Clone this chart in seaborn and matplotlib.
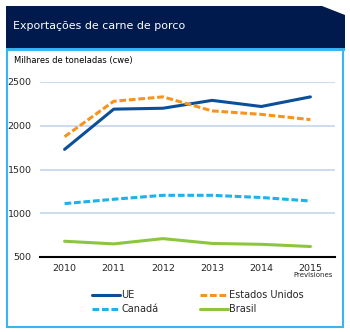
import matplotlib
matplotlib.use("Agg")
import matplotlib.pyplot as plt
from matplotlib.patches import Polygon, Rectangle
from matplotlib.lines import Line2D
import seaborn as sns
import pandas as pd

years = [2010, 2011, 2012, 2013, 2014, 2015]
ue = [1730, 2190, 2200, 2290, 2220, 2330]
eua = [1875, 2280, 2330, 2170, 2130, 2070]
canada = [1110, 1160, 1205, 1205, 1180, 1140]
brasil = [680, 650, 710, 655, 645, 620]
series_names = ["UE", "Estados Unidos", "Canadá", "Brasil"]
yticks = [500, 1000, 1500, 2000, 2500]

colors = {"UE": "#0b4f9a", "Estados Unidos": "#f7941d", "Canadá": "#1eb1ea", "Brasil": "#8cc63f"}
dashes = {"UE": "", "Estados Unidos": (2.2, 0.9), "Canadá": (2.2, 0.9), "Brasil": ""}

rows = []
for name, vals in zip(series_names, [ue, eua, canada, brasil]):
    for y, v in zip(years, vals):
        rows.append({"ano": y, "valor": v, "serie": name})
df = pd.DataFrame(rows)

sns.set_style("white")
plt.rcParams['font.family'] = ['DejaVu Sans']

W, H = 350, 332
fig = plt.figure(figsize=(W / 100, H / 100), dpi=100)

def fx(x): return x / W
def fy(y): return 1 - y / H

# header
hdr = Polygon([(fx(6), fy(6)), (fx(322), fy(6)), (fx(345), fy(15)), (fx(345), fy(48)), (fx(6), fy(48))],
              closed=True, transform=fig.transFigure, facecolor="#001a4d", edgecolor="none")
fig.add_artist(hdr)
fig.add_artist(Rectangle((fx(6), fy(51)), fx(339), 3 / H, transform=fig.transFigure,
                         facecolor="#2fb3ef", edgecolor="none"))
fig.add_artist(Rectangle((fx(7), fy(327)), fx(336), 277 / H, transform=fig.transFigure,
                         facecolor="none", edgecolor="#3ab4f2", linewidth=1.5))
fig.text(fx(13), fy(26), "Exportações de carne de porco", color="white", fontsize=7.9,
         va="center", ha="left")
fig.text(fx(14), fy(61), "Milhares de toneladas (cwe)", color="black", fontsize=6.0,
         va="center", ha="left")

ax = fig.add_axes([fx(40), fy(257), fx(295), (257 - 82) / H])
sns.lineplot(data=df, x="ano", y="valor", hue="serie", style="serie", palette=colors,
             dashes=dashes, linewidth=2.2, ax=ax, legend=False, zorder=3)
ax.set_xlim(2009.5, 2015.5)
ax.set_ylim(500, 2500)
ax.set_yticks(yticks)
ax.set_xticks(years)
ax.set_xticklabels([str(y) for y in years], fontsize=6.8)
ax.set_yticklabels([str(v) for v in yticks], fontsize=6.8)
ax.set_xlabel("")
ax.set_ylabel("")
for v in yticks[1:]:
    ax.axhline(v, color="#c5d6ec", linewidth=1.2, zorder=1)
for s in ["top", "right", "left"]:
    ax.spines[s].set_visible(False)
ax.spines["bottom"].set_color("black")
ax.spines["bottom"].set_linewidth(1.5)
ax.tick_params(axis="x", direction="out", length=3, width=1, color="black", pad=2)
ax.tick_params(axis="y", length=0, pad=6)
ax.text(2015.05, -0.085, "Previsiones", transform=ax.get_xaxis_transform(), fontsize=5,
        ha="center", va="top")

handles = [Line2D([0], [0], color=colors[n], linewidth=2.2,
                  dashes=dashes[n] if dashes[n] else (None, None)) for n in series_names]
order = [0, 2, 1, 3]
fig.legend([handles[i] for i in order], [series_names[i] for i in order], ncol=2,
           loc="center", bbox_to_anchor=(fx(198), fy(302)), frameon=False, fontsize=7,
           handlelength=2.9, handletextpad=0.1, columnspacing=4.3, labelspacing=0.4)

fig.savefig("out.png", dpi=100)
